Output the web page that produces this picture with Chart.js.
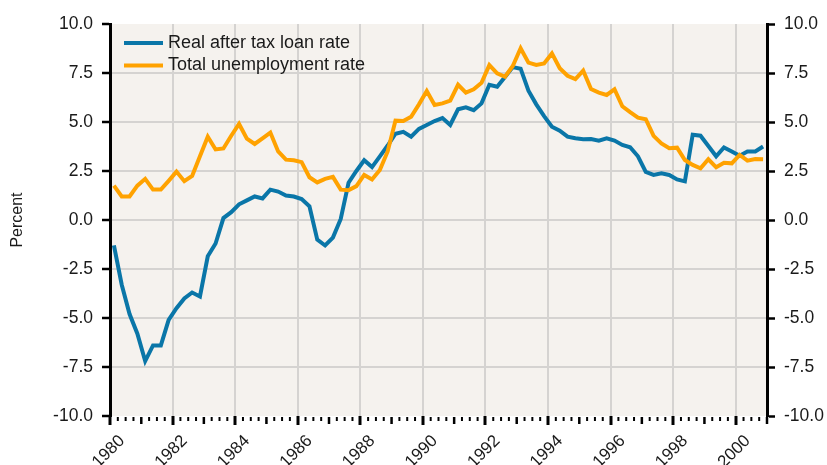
<!DOCTYPE html>
<html>
<head>
<meta charset="utf-8">
<script src="https://cdn.jsdelivr.net/npm/chart.js@4.4.1/dist/chart.umd.min.js"></script>
<style>
  html, body { margin: 0; padding: 0; background: #fff; }
  #wrap { width: 827px; height: 465px; }
</style>
</head>
<body>
<div id="wrap"><canvas id="chart"></canvas></div>
<script>
// quarterly data, 1980Q1 .. 2000Q4
const firstYear = 1980;
const lastYear = 2001;
const yearTicks = [1980, 1982, 1984, 1986, 1988, 1990, 1992, 1994, 1996, 1998, 2000];
const percentTicks = [-10, -7.5, -5, -2.5, 0, 2.5, 5, 7.5, 10];

const loanRate = [
  -1.3, -3.3, -4.8, -5.8, -7.2, -6.4, -6.4, -5.1,
  -4.5, -4.0, -3.7, -3.9, -1.85, -1.2, 0.1, 0.4,
  0.8, 1.0, 1.2, 1.1, 1.55, 1.45, 1.25, 1.2,
  1.07, 0.7, -1.0, -1.3, -0.9, 0.05, 1.9, 2.5,
  3.05, 2.7, 3.25, 3.8, 4.4, 4.5, 4.25, 4.65,
  4.85, 5.05, 5.2, 4.85, 5.65, 5.75, 5.6, 5.95,
  6.9, 6.8, 7.3, 7.8, 7.72, 6.6, 5.9, 5.3,
  4.76, 4.56, 4.25, 4.17, 4.12, 4.13, 4.05, 4.17,
  4.05, 3.83, 3.71, 3.25, 2.45, 2.3, 2.38, 2.3,
  2.07, 1.97, 4.35, 4.3, 3.78, 3.25, 3.7, 3.5,
  3.28, 3.49, 3.5, 3.75
];

const unemploymentRate = [
  1.75, 1.2, 1.2, 1.75, 2.1, 1.55, 1.55, 2.0,
  2.47, 1.98, 2.25, 3.25, 4.25, 3.6, 3.65, 4.3,
  4.9, 4.15, 3.88, 4.17, 4.46, 3.5, 3.08, 3.05,
  2.95, 2.18, 1.92, 2.1, 2.2, 1.55, 1.52, 1.73,
  2.3, 2.07, 2.55, 3.5, 5.07, 5.05, 5.27, 5.9,
  6.58, 5.87, 5.95, 6.09, 6.9, 6.5, 6.67, 7.0,
  7.9, 7.48, 7.31, 7.86, 8.76, 8.03, 7.91, 7.99,
  8.5, 7.74, 7.36, 7.19, 7.62, 6.68, 6.5, 6.38,
  6.67, 5.8, 5.5, 5.22, 5.14, 4.29, 3.91, 3.66,
  3.69, 3.06, 2.81, 2.64, 3.1, 2.69, 2.92, 2.89,
  3.32, 3.03, 3.11, 3.1
];

// mid-quarter positions
const quarterX = loanRate.map((_, i) => firstYear + (i + 0.5) / 4);
const toPoints = vals => vals.map((v, i) => ({ x: quarterX[i], y: v }));

const FONT = '"Liberation Sans", Arial, sans-serif';
Chart.defaults.font.family = FONT;
Chart.defaults.color = "#1a1a1a";

const plotBackground = {
  id: "plotBackground",
  beforeDraw(chart) {
    const { ctx, chartArea: a } = chart;
    ctx.save();
    ctx.fillStyle = "#f5f2ee";
    ctx.fillRect(a.left, a.top, a.right - a.left, a.bottom - a.top);
    ctx.restore();
  }
};

// quarter and year tick marks under the x axis
const minorTicks = {
  id: "minorTicks",
  afterDraw(chart) {
    const { ctx, chartArea: a } = chart;
    const xs = chart.scales.x;
    ctx.save();
    ctx.strokeStyle = "#000";
    for (let k = 0; k <= (lastYear - firstYear) * 4; k++) {
      if (k % 8 === 0) continue;
      const px = xs.getPixelForValue(firstYear + k / 4);
      const len = k % 4 === 0 ? 7 : 4;
      ctx.lineWidth = k % 4 === 0 ? 2.5 : 2;
      ctx.beginPath();
      ctx.moveTo(px, a.bottom + 1);
      ctx.lineTo(px, a.bottom + 1 + len);
      ctx.stroke();
    }
    ctx.restore();
  }
};

const insideLegend = {
  id: "insideLegend",
  afterDatasetsDraw(chart) {
    const { ctx, chartArea: a } = chart;
    ctx.save();
    ctx.font = "18px " + FONT;
    ctx.textBaseline = "middle";
    chart.data.datasets.forEach((ds, i) => {
      const x = a.left + 14;
      const y = a.top + 19 + i * 22.5;
      ctx.strokeStyle = ds.borderColor;
      ctx.lineWidth = 4;
      ctx.beginPath();
      ctx.moveTo(x, y);
      ctx.lineTo(x + 39, y);
      ctx.stroke();
      ctx.fillStyle = "#1a1a1a";
      ctx.fillText(ds.label, x + 44, y);
    });
    ctx.restore();
  }
};

const gridColor = c => (c.tick && Math.abs(c.tick.value) === 10) ? "rgba(0,0,0,0)" : "#d5d3d1";

new Chart(document.getElementById("chart"), {
  type: "line",
  data: {
    datasets: [{
      label: "Real after tax loan rate",
      data: toPoints(loanRate),
      borderColor: "#0a76a8",
      backgroundColor: "#0a76a8",
      borderWidth: 4,
      pointRadius: 0,
      tension: 0,
      order: 2,
    }, {
      label: "Total unemployment rate",
      data: toPoints(unemploymentRate),
      borderColor: "#ffa200",
      backgroundColor: "#ffa200",
      borderWidth: 4,
      pointRadius: 0,
      tension: 0,
      order: 1,
    }]
  },
  options: {
    responsive: true,
    maintainAspectRatio: false,
    animation: false,
    layout: { padding: { top: 24, left: 0, right: 0, bottom: 0 } },
    scales: {
      x: {
        type: "linear",
        min: firstYear,
        max: lastYear,
        afterBuildTicks: s => { s.ticks = yearTicks.map(v => ({ value: v })); },
        afterFit: s => { s.height = 49; },
        border: { display: false },
        grid: { color: "#d5d3d1", lineWidth: 2, tickLength: 9, tickWidth: 3, tickColor: "#000" },
        ticks: {
          minRotation: 45,
          maxRotation: 45,
          labelOffset: 12,
          padding: 6,
          font: { size: 17 },
          callback: v => String(v),
        },
      },
      y: {
        position: "left",
        min: -10,
        max: 10,
        afterBuildTicks: s => { s.ticks = percentTicks.map(v => ({ value: v })); },
        afterFit: s => { s.width = 110; },
        border: { display: true, color: "#000", width: 3 },
        grid: { color: gridColor, lineWidth: 2, tickLength: 8, tickWidth: 2.5, tickColor: "#000" },
        ticks: { padding: 9, font: { size: 17.5 }, callback: v => v.toFixed(1) },
        title: { display: true, text: "Percent", font: { size: 16 }, padding: { top: 8, bottom: 0 } },
      },
      y2: {
        position: "right",
        min: -10,
        max: 10,
        afterBuildTicks: s => { s.ticks = percentTicks.map(v => ({ value: v })); },
        afterFit: s => { s.width = 60; },
        border: { display: true, color: "#000", width: 3 },
        grid: { drawOnChartArea: false, tickLength: 8, tickWidth: 2.5, tickColor: "#000" },
        ticks: { padding: 9, font: { size: 17.5 }, callback: v => v.toFixed(1) },
      },
    },
    plugins: {
      legend: { display: false },
      tooltip: { enabled: false },
    },
  },
  plugins: [plotBackground, minorTicks, insideLegend],
});
</script>
</body>
</html>
